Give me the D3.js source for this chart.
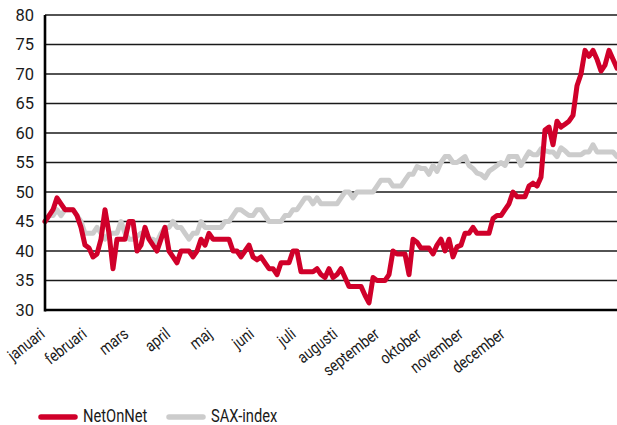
<!DOCTYPE html>
<html>
<head>
<meta charset="utf-8">
<script src="https://cdn.jsdelivr.net/npm/d3@7"></script>
<style>
  body { margin: 0; background: #fff; }
  text { fill: #1a1a1a; font-family: Roboto, sans-serif; }
</style>
</head>
<body>
<svg id="chart" width="617" height="425"></svg>
<script>
// month labels along the bottom
let months = ["januari", "februari", "mars", "april", "maj", "juni", "juli",
  "augusti", "september", "oktober", "november", "december"];

let yTicks = [30, 35, 40, 45, 50, 55, 60, 65, 70, 75, 80];

// NetOnNet, one reading per step across the year
let netOnNet = [45, 46, 47, 49, 48, 47, 47, 47, 46, 44, 41, 40.5, 39, 39.5, 42, 47,
  43, 37, 42, 42, 42, 45, 45, 40, 41, 44, 42, 41, 40, 42, 44, 40,
  39, 38, 40, 40, 40, 39, 40, 42, 41, 43, 42, 42, 42, 42, 42, 40,
  40, 39, 40, 41, 39, 38.5, 39, 38, 37, 37, 36, 38, 38, 38, 40, 40,
  36.5, 36.5, 36.5, 36.5, 37, 36, 35.5, 37, 35.5, 36, 37, 35.5, 34, 34, 34, 34,
  32.5, 31.2, 35.5, 35, 35, 35, 36, 40, 39.5, 39.5, 39.5, 36, 42, 41.5, 40.5, 40.5,
  40.5, 39.5, 41, 42, 40, 42, 39, 40.7, 41, 43, 43, 44, 43, 43, 43, 43,
  45.5, 46, 46, 47, 48, 50, 49.2, 49.2, 49.2, 51, 51.5, 51, 52.5, 60.5, 61, 58,
  62, 61, 61.5, 62, 63, 68, 70, 74, 73, 74, 72.5, 70.5, 71.5, 74, 72.5, 71];

// SAX-index, same steps
let saxIndex = [45, 46, 46, 47, 46, 47, 47, 47, 46, 45, 43, 43, 43, 44, 43, 42,
  43, 43, 43, 45, 43, 42, 42, 42.5, 43, 43, 42, 42, 41.5, 43, 44, 44,
  45, 44, 44, 43, 42, 43, 43, 45, 44, 44, 44, 44, 44, 45, 45, 46,
  47, 47, 46.5, 46, 46, 47, 47, 46, 45, 45, 45, 45, 46, 46, 47, 47,
  48, 49, 49, 48, 49, 48, 48, 48, 48, 48, 49, 50, 50, 49, 50, 50,
  50, 50, 50, 51, 52, 52, 52, 51, 51, 51, 52, 53, 53, 54.3, 54, 54,
  53, 54.5, 53.5, 55, 56, 56, 55, 55, 55.5, 56, 54.5, 54, 53.2, 53, 52.4, 53.5,
  54, 54.5, 55, 54.5, 56, 56, 56, 54.5, 55.7, 56.8, 56.3, 56.3, 57.3, 57, 56.8, 56.8,
  56, 57.5, 57, 56.3, 56.3, 56.3, 56.3, 56.8, 56.8, 58, 56.8, 56.8, 56.8, 56.8, 56.8, 56];

let seriesNames = ["NetOnNet", "SAX-index"];
let seriesColors = ["#d0002a", "#cccccc"];

let svg = d3.select("#chart");
let mLeft = 45, mRight = 617, mTop = 15, mBottom = 310;
let squeeze = 0.84; // the original type is a condensed face

let x = d3.scaleLinear().domain([0, netOnNet.length - 1]).range([mLeft, mRight]);
let y = d3.scaleLinear().domain([30, 80]).range([mBottom, mTop]);
let xMonth = d3.scalePoint().domain(months).range([46, 506]);

// horizontal grid
svg.append("g").selectAll("line")
  .data(yTicks.slice(1))
  .enter().append("line")
  .attr("x1", mLeft).attr("x2", mRight)
  .attr("y1", d => y(d)).attr("y2", d => y(d))
  .attr("stroke", "#1a1a1a")
  .attr("stroke-width", 1.4);

// y labels
let yAxis = d3.axisLeft(y).tickValues(yTicks).tickSize(0).tickPadding(11);
let gy = svg.append("g").attr("transform", "translate(" + mLeft + ",0)").call(yAxis);
gy.select(".domain").remove();
gy.selectAll("text")
  .attr("font-size", 16.5)
  .attr("font-family", "Roboto, sans-serif")
  .attr("fill", "#1a1a1a");

// lines, grey first so red sits on top
let line = d3.line().x((d, i) => x(i)).y(d => y(d));
[saxIndex, netOnNet].forEach(function(data, k){
  svg.append("path")
    .datum(data)
    .attr("d", line)
    .attr("fill", "none")
    .attr("stroke", k == 0 ? seriesColors[1] : seriesColors[0])
    .attr("stroke-width", 5)
    .attr("stroke-linejoin", "round")
    .attr("stroke-linecap", "round");
});

// axis lines
svg.append("line")
  .attr("x1", mLeft).attr("x2", mLeft).attr("y1", mTop).attr("y2", mBottom + 1.5)
  .attr("stroke", "#000").attr("stroke-width", 2.6);
svg.append("line")
  .attr("x1", mLeft).attr("x2", mRight).attr("y1", mBottom).attr("y2", mBottom)
  .attr("stroke", "#000").attr("stroke-width", 2.6);

// month labels, rotated
svg.append("g").selectAll("text")
  .data(months)
  .enter().append("text")
  .attr("transform", d => "translate(" + xMonth(d) + ",336) rotate(-38) scale(" + squeeze + ",1)")
  .attr("text-anchor", "end")
  .attr("font-size", 16.5)
  .text(d => d);

// legend
let legend = svg.append("g");
seriesNames.forEach(function(name, i){
  let lx = 41 + i * 128;
  legend.append("line")
    .attr("x1", lx).attr("x2", lx + 34).attr("y1", 417).attr("y2", 417)
    .attr("stroke", seriesColors[i])
    .attr("stroke-width", 5.5)
    .attr("stroke-linecap", "round");
  legend.append("text")
    .attr("transform", "translate(" + (lx + 42) + ",422) scale(" + squeeze + ",1)")
    .attr("font-size", 17.5)
    .text(name);
});
</script>
</body>
</html>
